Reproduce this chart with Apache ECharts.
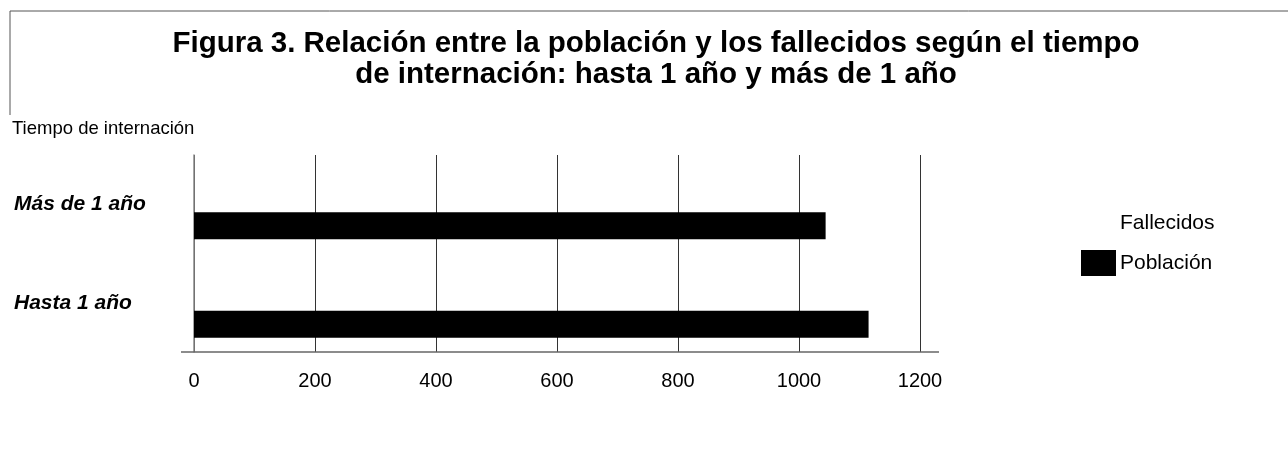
<!DOCTYPE html>
<html>
<head>
<meta charset="utf-8">
<script src="https://cdn.jsdelivr.net/npm/echarts@6/dist/echarts.min.js"></script>
<style>
  html, body { margin: 0; padding: 0; background: #fff; }
  #chart { width: 1288px; height: 453px; }
</style>
</head>
<body>
<div id="chart"></div>
<script>
// categorias de abajo hacia arriba (eje y de categorias)
var categorias = ["Hasta 1 año", "Más de 1 año"];
var poblacion = [1115, 1044];
var fallecidos = [0, 0]; // no se ven en la figura
var ticksX = [0, 200, 400, 600, 800, 1000, 1200];

var fuente = "Liberation Sans, Arial, sans-serif";

var chartDom = document.getElementById("chart");
var myChart = echarts.init(chartDom);

var option = {
  animation: false,
  textStyle: { fontFamily: fuente, color: "#000" },
  title: [
    {
      text: "Figura 3. Relación entre la población y los fallecidos según el tiempo\nde internación: hasta 1 año y más de 1 año",
      left: 656,
      top: 28,
      padding: 0,
      textAlign: "center",
      textStyle: { fontSize: 29.5, fontWeight: "bold", color: "#000", lineHeight: 31, fontFamily: fuente }
    },
    {
      text: "Tiempo de internación",
      left: 12,
      top: 119,
      padding: 0,
      textStyle: { fontSize: 18.5, fontWeight: "normal", color: "#000", fontFamily: fuente }
    }
  ],
  legend: {
    orient: "vertical",
    left: 1081,
    top: 210,
    itemWidth: 35,
    itemHeight: 26,
    itemGap: 14,
    padding: 0,
    icon: "rect",
    data: ["Fallecidos", "Población"],
    textStyle: { fontSize: 21, color: "#000", padding: [0, 0, 0, -1] }
  },
  grid: { left: 194, right: 368, top: 155, bottom: 101 },
  xAxis: {
    type: "value",
    min: 0,
    max: 1200,
    interval: 200,
    axisLine: { show: false },
    axisTick: { show: false },
    axisLabel: {
      fontSize: 20,
      color: "#000",
      margin: 19,
      formatter: function (v) { return ticksX.indexOf(v) >= 0 ? String(v) : ""; }
    },
    splitLine: { show: true, lineStyle: { color: "#333", width: 1 } }
  },
  yAxis: {
    type: "category",
    data: categorias,
    axisLine: { show: true, lineStyle: { color: "#888", width: 1.5 } },
    axisTick: { show: false },
    axisLabel: {
      align: "left",
      margin: 180,
      fontSize: 21,
      fontWeight: "bold",
      fontStyle: "italic",
      color: "#000"
    }
  },
  graphic: [
    { type: "line", shape: { x1: 10, y1: 11, x2: 1288, y2: 11 }, style: { stroke: "#555", lineWidth: 1 } },
    { type: "line", shape: { x1: 10, y1: 11, x2: 10, y2: 115 }, style: { stroke: "#555", lineWidth: 1 } },
    { type: "line", shape: { x1: 181, y1: 352, x2: 939, y2: 352 }, style: { stroke: "#666", lineWidth: 1.5 }, z: 10 }
  ],
  series: [
    {
      name: "Fallecidos",
      type: "bar",
      data: fallecidos,
      barWidth: 27,
      barGap: "59%",
      itemStyle: { color: "#fff" }
    },
    {
      name: "Población",
      type: "bar",
      data: poblacion,
      barWidth: 27,
      itemStyle: { color: "#000" }
    }
  ]
};

myChart.setOption(option);
</script>
</body>
</html>
